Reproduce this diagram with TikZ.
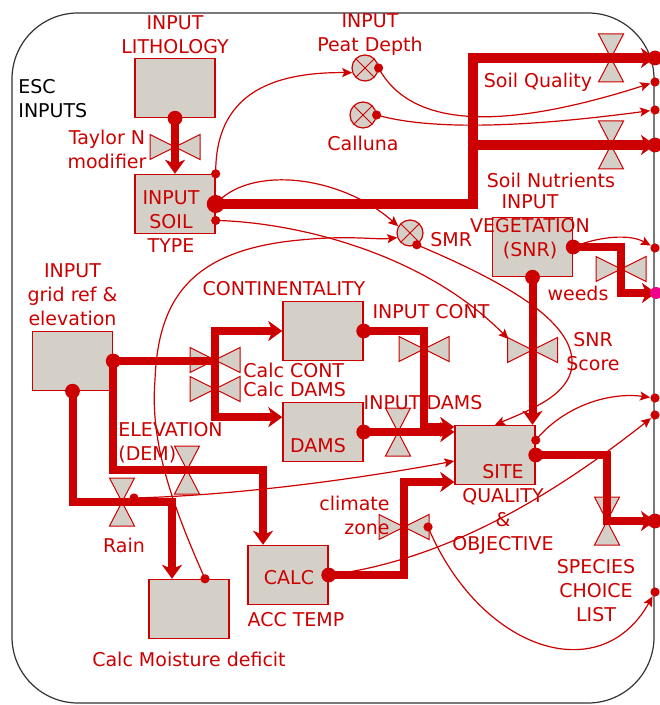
\documentclass[tikz,border=0pt]{standalone}
\usepackage{fontspec}
\setmainfont{DejaVu Sans}
\usepackage{tikz}
\usetikzlibrary{arrows.meta,positioning}

\definecolor{sred}{HTML}{CC0000}
\definecolor{sgray}{HTML}{D4D0C8}
\definecolor{sframe}{HTML}{333333}

\tikzset{
  lbl/.style={text=sred, align=center, inner sep=0pt, font=\fontsize{9.5}{12}\selectfont},
  stock/.style={draw=sred, fill=sgray, line width=0.7pt, minimum width=40pt, minimum height=29.5pt, inner sep=0pt},
  conv/.style={circle, draw=sred, fill=sgray, line width=0.6pt, minimum size=13pt, inner sep=0pt,
    path picture={\draw[sred, line width=0.5pt] (path picture bounding box.south west) -- (path picture bounding box.north east)
      (path picture bounding box.north west) -- (path picture bounding box.south east);}},
  valve/.style={draw=sred, fill=sgray, line width=0.5pt},
  pipe/.style={sred, line width=4pt, -{Stealth[length=7pt,width=10pt,inset=2pt]}},
  conn/.style={sred, line width=0.6pt, -{Stealth[length=5pt,width=4.5pt,inset=1pt]}},
  pics/valveh/.style={code={\draw[valve] (-25,-12.5) -- (0,0) -- (-25,12.5) -- cycle (25,-12.5) -- (0,0) -- (25,12.5) -- cycle;}},
  pics/valvev/.style={code={\draw[valve] (-12.5,-24) -- (0,0) -- (12.5,-24) -- cycle (-12.5,24) -- (0,0) -- (12.5,24) -- cycle;}},
}

\begin{document}
\begin{tikzpicture}[x=0.5pt, y=-0.5pt]
\useasboundingbox (0,0) rectangle (659,705);
\draw[sframe, line width=0.6pt, rounded corners=33pt] (12,13) rectangle (654,703);

\node[stock] (lith) at (175,88) {};
\node[stock] (soil) at (175,204) {};
\node[stock] (grid) at (72.5,361) {};
\node[stock] (cont) at (323,331) {};
\node[stock] (dams) at (323,432) {};
\node[stock] (site) at (495,455) {};
\node[stock] (veg) at (532.5,247) {};
\node[stock] (temp) at (288,575) {};
\node[stock] (moist) at (189,609) {};
\node[conv] (peat) at (365,68) {};
\node[conv] (calluna) at (363,115) {};
\node[conv] (smr) at (410,233) {};

\coordinate (vTaylor) at (175,147);
\coordinate (vQual) at (611,58);
\coordinate (vNutr) at (611,145);
\coordinate (vWeeds) at (621,269);
\coordinate (vCalcC) at (215,360);
\coordinate (vCalcD) at (215,389);
\coordinate (vInCont) at (424,349);
\coordinate (vInDams) at (398,432);
\coordinate (vSNR) at (532.5,350);
\coordinate (vClim) at (404,527);
\coordinate (vElev) at (187,470);
\coordinate (vRain) at (122,502);
\coordinate (vSpec) at (607,521);
\coordinate (jSoil) at (473,145);
\coordinate (jCD) at (215,361);
\coordinate (oQual) at (655,58);
\coordinate (oNutr) at (655,145);
\coordinate (oWeeds) at (656,293);
\coordinate (oSpec) at (655,521);
\coordinate (oPeat) at (655,82);
\coordinate (oCall) at (655,110);
\coordinate (oVeg) at (655,248);
\coordinate (oSite) at (655,398);
\coordinate (oTemp) at (655,415);
\coordinate (oClim) at (655,592);
\coordinate (dMoist) at ([xshift=8pt]moist.north);
\coordinate (dClim) at ([xshift=12pt]vClim);
\coordinate (dRain) at (134,498);

\draw[conn] (soil.north east) .. controls (215,95) and (270,72) .. (peat.200);
\draw[conn] (soil.east) .. controls (250,165) and (340,175) .. (smr.150);
\draw[conn] (soil.-22) .. controls (290,222) and (420,250) .. ([shift={(-24,-11)}]vSNR);
\draw[conn] (dMoist) .. controls (170,500) and (150,440) .. (155,380)
  .. controls (158,300) and (190,250) .. (300,240)
  .. controls (350,235) and (375,240) .. (smr.200);
\draw[conn] (smr.-60) .. controls (500,280) and (575,320) .. (572,365)
  .. controls (570,395) and (530,410) .. (site.north);
\draw[conn, shorten >=2.5pt] (peat.east) .. controls (415,135) and (520,125) .. (oPeat);
\draw[conn, shorten >=2.5pt] (calluna.east) .. controls (430,130) and (520,128) .. (oCall);
\draw[conn, shorten >=2.5pt] (veg.east) .. controls (600,236) and (630,234) .. (oVeg);
\draw[conn, shorten >=2.5pt] (site.20) .. controls (565,405) and (610,392) .. (oSite);
\draw[conn, shorten >=2.5pt] (temp.east) .. controls (450,560) and (560,490) .. (oTemp);
\draw[conn, shorten >=2.5pt] (dClim) .. controls (480,650) and (600,690) .. (oClim);
\draw[conn] (dRain) .. controls (250,495) and (380,475) .. ([yshift=-3pt]site.west);

\foreach \v in {vTaylor, vWeeds, vCalcC, vCalcD, vInCont, vSNR, vClim}
  \pic at (\v) {valveh};
\foreach \v in {vQual, vNutr, vInDams, vElev, vRain, vSpec}
  \pic at (\v) {valvev};

\draw[pipe] (lith.south) -- (soil.north);
\draw[pipe, line width=5pt] (soil.east) -| (jSoil) |- (oQual);
\draw[pipe, line width=5pt] (jSoil) -- (oNutr);
\draw[pipe, -] (grid.east) -- (jCD);
\draw[pipe] (jCD) |- (cont.west);
\draw[pipe] (jCD) |- (dams.160);
\draw[pipe] (grid.east) |- (vElev) -| ([xshift=-12.5pt]temp.north);
\draw[pipe] (grid.south) |- (vRain) -| ([xshift=-8.5pt]moist.north);
\draw[pipe] (cont.east) -| (vInCont) |- ([yshift=14pt]site.west);
\draw[pipe] (dams.east) -- (dams.east -| site.west);
\draw[pipe] (veg.south) -- (veg.south |- site.north);
\draw[pipe] (veg.east) -| (vWeeds) |- (oWeeds);
\draw[pipe] (temp.east) -| (vClim) |- ([yshift=-13.5pt]site.west);
\draw[pipe] (site.east) -| (vSpec) |- (oSpec);

\foreach \p in {lith.south, grid.east, grid.south, cont.east, dams.east, temp.east, veg.east, veg.south, site.east, oQual, oNutr, oSpec}
  \fill[sred] (\p) circle[radius=3.7pt];
\fill[sred] (soil.east) circle[radius=4.5pt];
\fill[magenta] (oWeeds) circle[radius=3pt];
\foreach \p in {soil.north east, soil.-22, peat.east, calluna.east, smr.-60, site.20, dMoist, dClim, dRain, oPeat, oCall, oVeg, oSite, oTemp, oClim}
  \fill[sred] (\p) circle[radius=2.3pt];

\node[lbl, text=black, align=left, anchor=west] (esc) at (18,99) {ESC\\INPUTS};
\node[lbl, above=2pt of lith] (lithlbl) {INPUT\\LITHOLOGY};
\node[lbl] (soillbl) at (171,222) {INPUT\\SOIL\\TYPE};
\node[lbl, above=2.5pt of grid] (gridlbl) {INPUT\\grid ref \&\\elevation};
\node[lbl] (contlbl) at (284,289) {CONTINENTALITY};
\node[lbl] (damslbl) at (318,446) {DAMS};
\node[lbl] (sitelbl) at (503,509) {SITE\\QUALITY\\\&\\OBJECTIVE};
\node[lbl] (veglbl) at (530,227) {INPUT\\VEGETATION\\(SNR)};
\node[lbl] (calclbl) at (289,578) {CALC};
\node[lbl] (templbl) at (296,620) {ACC TEMP};
\node[lbl, below=6pt of moist] (moistlbl) {Calc Moisture deficit};
\node[lbl] (peatlbl) at (370,35) {INPUT\\Peat Depth};
\node[lbl, below=3.5pt of calluna] (calllbl) {Calluna};
\node[lbl, anchor=west] (smrlbl) at (430,240) {SMR};
\node[lbl] (taylorlbl) at (107,149) {Taylor N\\modifier};
\node[lbl] (quallbl) at (538,82) {Soil Quality};
\node[lbl] (nutrlbl) at (551,180) {Soil Nutrients};
\node[lbl] (weedslbl) at (578,293) {weeds};
\node[lbl, anchor=west] (calcclbl) at (243,370) {Calc CONT};
\node[lbl, anchor=west] (calcdlbl) at (243,389) {Calc DAMS};
\node[lbl] (inclbl) at (431,312) {INPUT CONT};
\node[lbl] (indlbl) at (423,403) {INPUT DAMS};
\node[lbl] (snrlbl) at (593,352) {SNR\\Score};
\node[lbl, align=right, anchor=east] (climlbl) at (390,515) {climate\\zone};
\node[lbl, align=left, anchor=west] (elevlbl) at (118,443) {ELEVATION\\(DEM)};
\node[lbl] (rainlbl) at (124,545) {Rain};
\node[lbl] (speclbl) at (596,591) {SPECIES\\CHOICE\\LIST};
\end{tikzpicture}
\end{document}
